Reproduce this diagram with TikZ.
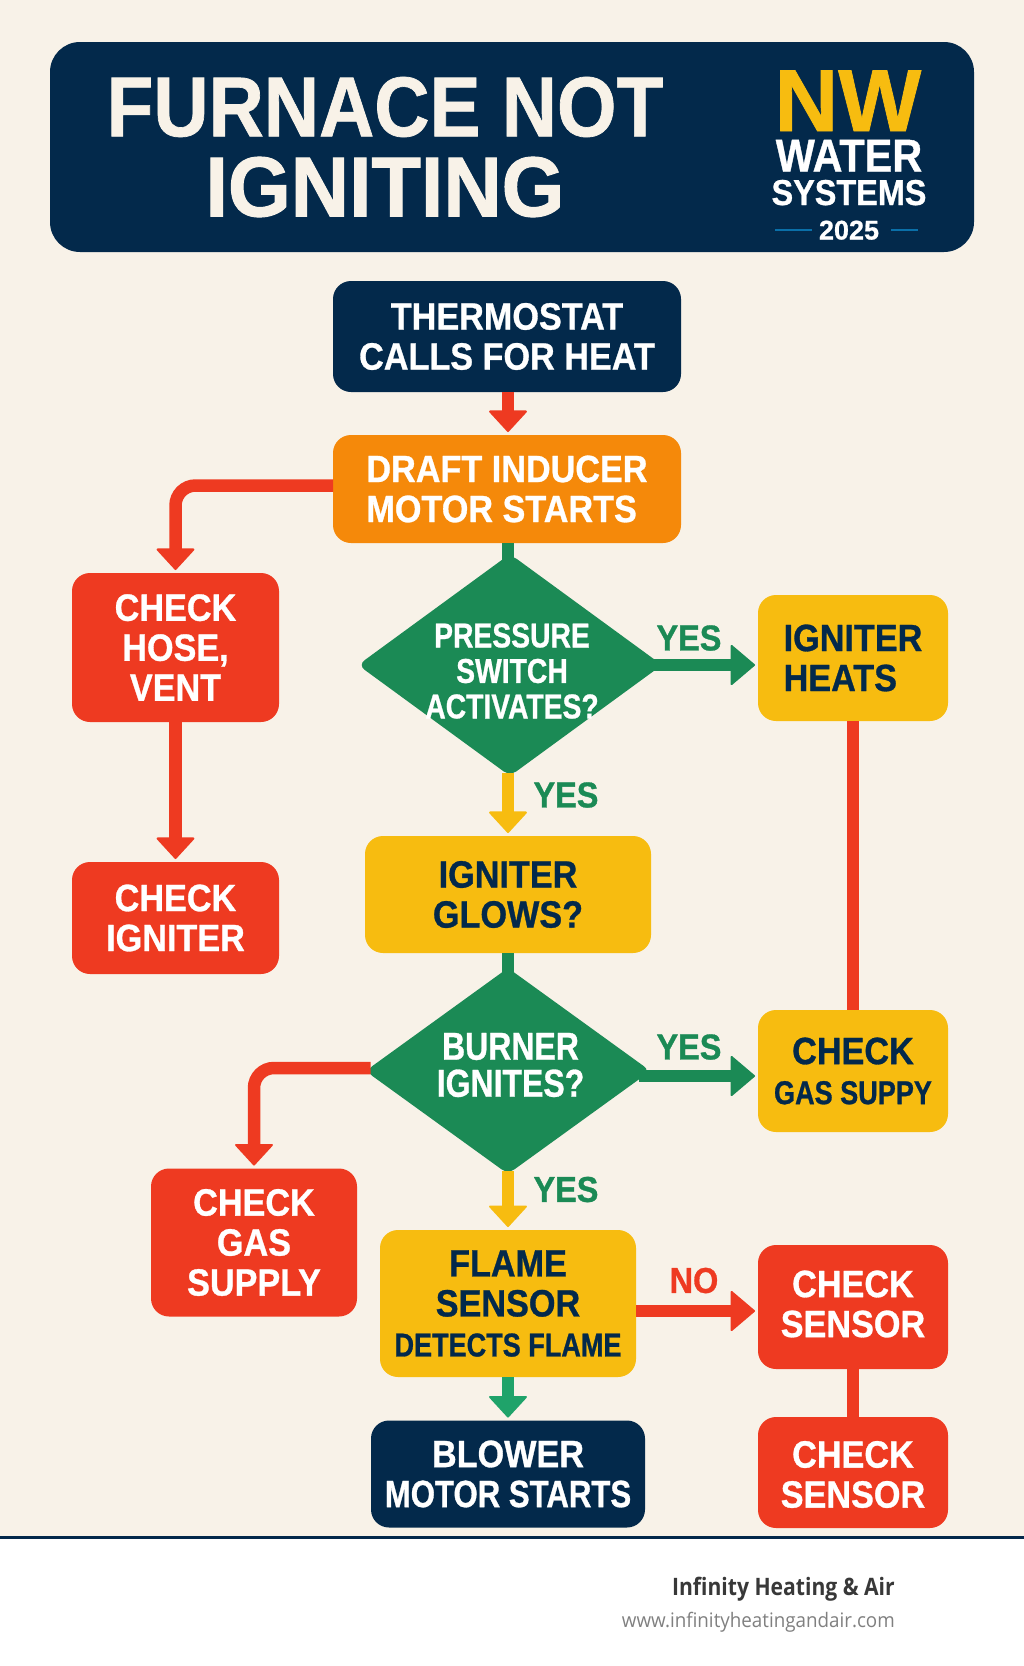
\documentclass[tikz,border=0pt]{standalone}
\usepackage{fontspec}
\setmainfont{Liberation Sans}[FakeStretch=0.90, BoldFeatures={FakeBold=0.8}]
\newfontfamily\narrowfont{Liberation Sans}[FakeStretch=0.82, BoldFeatures={FakeBold=0.8}]
\newfontfamily\titlefont{Liberation Sans}[FakeStretch=0.95, BoldFeatures={FakeBold=1.2}]
\newfontfamily\logofont{Liberation Sans}[BoldFeatures={FakeBold=0.8}]
\newfontfamily\companyfont{Open Sans}[FakeStretch=0.88]
\newfontfamily\sitefont{Open Sans}[FakeStretch=0.94]
\usetikzlibrary {arrows.meta, shapes.geometric}
\definecolor{paper}{HTML}{F8F2E8}
\definecolor{navy}{HTML}{03294B}
\definecolor{flameorange}{HTML}{F5890A}
\definecolor{alertred}{HTML}{EE3A21}
\definecolor{glowyellow}{HTML}{F7BC10}
\definecolor{gogreen}{HTML}{1B8A55}
\definecolor{brightgreen}{HTML}{1FA36A}
\definecolor{logoblue}{HTML}{0A6FA8}
\tikzset{
  box/.style={rectangle, rounded corners=18pt, inner sep=0pt, outer sep=0pt, align=center,
    font=\fontsize{38}{40}\bfseries\selectfont},
  navybox/.style={box, fill=navy, text=white},
  orangebox/.style={box, fill=flameorange, text=white},
  redbox/.style={box, fill=alertred, text=white},
  yellowbox/.style={box, fill=glowyellow, text=navy},
  boxtext/.style={text=white, align=center, inner sep=0pt, font=\fontsize{38}{40}\bfseries\selectfont},
  decide/.style={diamond, rounded corners=8pt, fill=gogreen, inner sep=0pt, outer sep=0pt},
  decidetext/.style={text=white, align=center, font=\narrowfont\fontsize{34.5}{35.5}\bfseries\selectfont},
  answer/.style={font=\fontsize{36}{36}\bfseries\selectfont},
  logotext/.style={inner sep=0pt, text=white, text depth=0pt},
  link/.style={line width=12.5pt, rounded corners=20pt},
  arrowlink/.style={link, -{Triangle[length=22pt, width=40pt, line width=2pt, round]}, shorten >=3pt},
  sidelink/.style={link, -{Triangle[length=25pt, width=42pt, line width=2pt, round]}, shorten >=3pt},
}
\begin{document}
\begin{tikzpicture}[x=1pt, y=-1pt]
  \useasboundingbox (0, 0) rectangle (1024, 1666);
  \fill[paper] (0, 0) rectangle (1024, 1536);
  \fill[white] (0, 1538) rectangle (1024, 1666);
  \fill[navy] (0, 1535.5) rectangle (1024, 1538.5);
  % header
  \node[navybox, rounded corners=30pt, minimum width=924pt, minimum height=210pt] (header) at (512, 147) {};
  \node[text=paper, align=center, font=\fontsize{85}{80}\bfseries\selectfont] (title) at (385, 147) {FURNACE NOT\\{\titlefont IGNITING}};
  \node[logotext, text height=62pt, text=glowyellow, font=\logofont\fontsize{88}{88}\bfseries\selectfont] (logonw) at (848, 100) {NW};
  \node[logotext, text height=33pt, font=\fontsize{46}{46}\bfseries\selectfont] (logowater) at (849, 155) {WATER};
  \node[logotext, text height=26pt, font=\fontsize{36}{36}\bfseries\selectfont] (logosystems) at (849, 192) {SYSTEMS};
  \node[logotext, text height=19pt, font=\logofont\fontsize{27}{27}\bfseries\selectfont] (logoyear) at (849, 230) {2025};
  \draw[logoblue, line width=2.5pt] ([xshift=-7pt]logoyear.west) -- ++(-37, 0);
  \draw[logoblue, line width=2.5pt] ([xshift=12pt]logoyear.east) -- ++(27, 0);
  % flow boxes
  \node[navybox, minimum width=348pt, minimum height=111pt] (thermostat) at (507, 336.5) {THERMOSTAT\\CALLS FOR HEAT};
  \node[orangebox, minimum width=348pt, minimum height=108pt, align=left] (draft) at (507, 489) {DRAFT INDUCER\\MOTOR STARTS};
  \node[redbox, minimum width=207pt, minimum height=149pt] (hose) at (175.5, 647.5) {CHECK\\HOSE,\\VENT};
  \node[redbox, minimum width=207pt, minimum height=112pt] (igniter) at (175.5, 918) {CHECK\\IGNITER};
  \node[decide, minimum width=304pt, minimum height=222pt,
    label={[decidetext, xshift=2pt, yshift=-6pt]center:PRESSURE\\SWITCH\\ACTIVATES?}] (pressure) at (510, 665) {};
  \node[yellowbox, minimum width=190pt, minimum height=126pt, align=left] (heats) at (853, 658) {IGNITER\\HEATS};
  \node[yellowbox, minimum width=286pt, minimum height=117pt] (glows) at (508, 894.5) {IGNITER\\GLOWS?};
  \node[decide, minimum width=285pt, minimum height=206pt,
    label={[decidetext, xshift=2.5pt, yshift=6pt, font=\narrowfont\fontsize{39}{37}\bfseries\selectfont]center:BURNER\\IGNITES?}] (burner) at (508, 1071) {};
  \node[yellowbox, minimum width=190pt, minimum height=122pt] (gassupy) at (853, 1071) {CHECK\\{\narrowfont\fontsize{33}{38}\selectfont GAS SUPPY}};
  \node[redbox, minimum width=206pt, minimum height=148pt] (gassupply) at (254, 1242.5) {CHECK\\GAS\\SUPPLY};
  \node[yellowbox, minimum width=256pt, minimum height=147pt] (flame) at (508, 1303.5) {FLAME\\SENSOR\\{\narrowfont\fontsize{33}{37}\selectfont DETECTS FLAME}};
  \node[redbox, minimum width=190pt, minimum height=124pt,
    label={[boxtext, yshift=3pt]center:CHECK\\SENSOR}] (sensor) at (853, 1307) {};
  \node[redbox, minimum width=190pt, minimum height=111pt,
    label={[boxtext, yshift=-2pt]center:CHECK\\SENSOR}] (sensortwo) at (853, 1472.5) {};
  \node[navybox, minimum width=274pt, minimum height=107pt] (blower) at (508, 1474) {BLOWER\\{\narrowfont MOTOR STARTS}};
  % connectors
  \draw[arrowlink, alertred] (thermostat.south -| glows) -- (draft.north -| glows);
  \draw[arrowlink, alertred] ([yshift=3.5pt]draft.west) -| (hose);
  \draw[arrowlink, alertred] (hose) -- (igniter);
  \draw[link, gogreen] (draft.south -| glows) -- ([yshift=-10pt]pressure.north -| glows);
  \draw[sidelink, gogreen] ([xshift=-12pt]pressure.east) -- (pressure.east -| heats.west);
  \draw[arrowlink, glowyellow] ([yshift=3pt]pressure.south -| glows) -- (glows);
  \draw[link, alertred] (heats) -- (gassupy);
  \draw[link, gogreen] (glows) -- ([yshift=-10pt]burner.north);
  \draw[sidelink, gogreen] ([xshift=-12pt, yshift=-5pt]burner.east) -- ([yshift=-5pt]burner.east -| gassupy.west);
  \draw[arrowlink, alertred] ([xshift=5pt, yshift=3pt]burner.west) -| (gassupply);
  \draw[arrowlink, glowyellow] ([yshift=3pt]burner.south) -- (flame);
  \draw[sidelink, alertred] ([yshift=-7.5pt]flame.east) -- ([yshift=-7.5pt]flame.east -| sensor.west);
  \draw[link, alertred] (sensor) -- (sensortwo);
  \draw[arrowlink, brightgreen] (flame) -- (blower);
  % answers
  \node[answer, text=gogreen] (yesa) at (689, 638) {YES};
  \node[answer, text=gogreen] (yesb) at (566, 795) {YES};
  \node[answer, text=gogreen] (yesc) at (689, 1047) {YES};
  \node[answer, text=gogreen] (yesd) at (566, 1189.5) {YES};
  \node[answer, text=alertred] (nolabel) at (694, 1280.5) {NO};
  % footer
  \node[anchor=east, inner sep=0pt, text=black!78, font=\companyfont\fontsize{24}{24}\bfseries\selectfont] (company) at (895, 1589) {Infinity Heating \& Air};
  \node[anchor=east, inner sep=0pt, text=black!50, font=\sitefont\fontsize{20}{20}\selectfont] (website) at (895, 1622) {www.infinityheatingandair.com};
\end{tikzpicture}
\end{document}
